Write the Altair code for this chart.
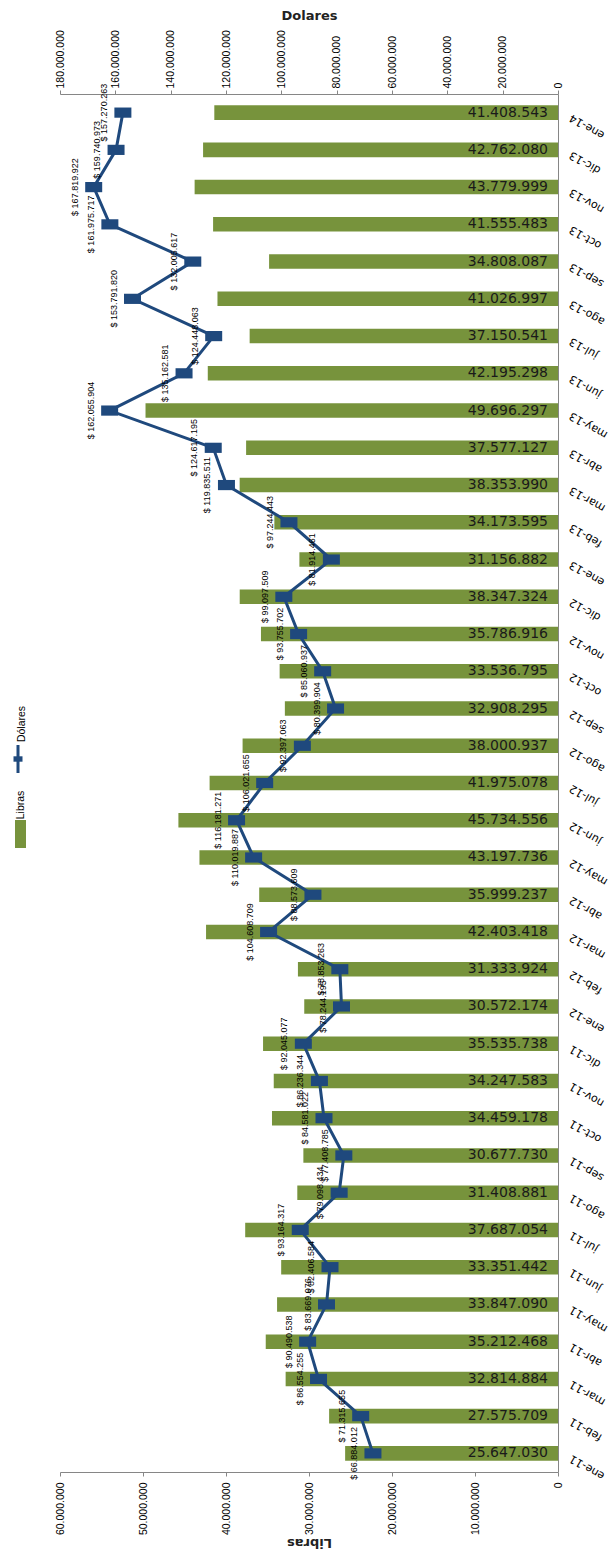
import altair as alt
import pandas as pd

# Monthly exports: pounds shipped (bars) and value in dollars (line)
meses = [
    "ene-11", "feb-11", "mar-11", "abr-11", "may-11", "jun-11", "jul-11", "ago-11",
    "sep-11", "oct-11", "nov-11", "dic-11", "ene-12", "feb-12", "mar-12", "abr-12",
    "may-12", "jun-12", "jul-12", "ago-12", "sep-12", "oct-12", "nov-12", "dic-12",
    "ene-13", "feb-13", "mar-13", "abr-13", "may-13", "jun-13", "jul-13", "ago-13",
    "sep-13", "oct-13", "nov-13", "dic-13", "ene-14",
]

libras = [
    25647030, 27575709, 32814884, 35212468, 33847090, 33351442, 37687054, 31408881,
    30677730, 34459178, 34247583, 35535738, 30572174, 31333924, 42403418, 35999237,
    43197736, 45734556, 41975078, 38000937, 32908295, 33536795, 35786916, 38347324,
    31156882, 34173595, 38353990, 37577127, 49696297, 42195298, 37150541, 41026997,
    34808087, 41555483, 43779999, 42762080, 41408543,
]

dolares = [
    66884012, 71315655, 86554255, 90490538, 83669076, 82406584, 93164317, 79098434,
    77408785, 84581022, 86236344, 92045077, 78244195, 78853263, 104608709, 88573609,
    110019887, 116181271, 106021655, 92397063, 80399904, 85060937, 93755702, 99097509,
    81914461, 97244443, 119835511, 124617195, 162055904, 135162581, 124448063, 153791820,
    132005617, 161975717, 167819922, 159740973, 157270263,
]

ticks_libras = [0, 10000000, 20000000, 30000000, 40000000, 50000000, 60000000]
ticks_dolares = [0, 20000000, 40000000, 60000000, 80000000, 100000000,
                 120000000, 140000000, 160000000, 180000000]


def miles(v):
    return f"{v:,}".replace(",", ".")


df = pd.DataFrame({"mes": meses, "libras": libras, "dolares": dolares})
df["orden"] = range(len(df))
df["txt_lib"] = [miles(v) for v in libras]
df["txt_usd"] = ["$ " + miles(v) for v in dolares]

W, H = 498, 1378
AZUL = "#1F497D"
VERDE = "#77933C"
GRIS = "#868686"
FUENTE = "Liberation Sans"
MARCA = "M-1,-0.6H1V0.6H-1Z"

etiqueta_millones = "datum.value == 0 ? '0' : format(datum.value / 1000000, 'd') + '.000.000'"
orden_y = meses[::-1]

y_axis = alt.Y(
    "mes:N", sort=orden_y,
    scale=alt.Scale(paddingInner=0.61, paddingOuter=0.305),
    axis=alt.Axis(
        orient="right", title=None, labelAngle=210, labelAlign="right",
        labelBaseline="middle", labelPadding=12, labelOffset=4, ticks=False,
        domainColor=GRIS, labelFont="DejaVu Sans", labelFontSize=11,
        labelColor="black",
    ),
)
y_plain = alt.Y("mes:N", sort=orden_y)

esc_lib = alt.Scale(domain=[0, 60000000], reverse=True, nice=False, zero=True)
esc_usd = alt.Scale(domain=[0, 180000000], reverse=True, nice=False, zero=True)

base = alt.Chart(df)

barras = base.mark_bar(color=VERDE).encode(
    x=alt.X(
        "libras:Q", scale=esc_lib,
        axis=alt.Axis(
            orient="bottom", values=ticks_libras, labelExpr=etiqueta_millones,
            labelAngle=270, labelAlign="right", labelBaseline="middle",
            labelPadding=6, labelFont=FUENTE, labelFontSize=10.5, labelColor="black",
            tickSize=4, tickColor=GRIS, domainColor=GRIS, grid=False,
            title="Libras", titleAngle=180, titleY=70, titleBaseline="middle",
            titleFont="DejaVu Sans", titleFontSize=13, titleFontWeight="bold",
            titleColor="#222222",
        ),
    ),
    y=y_axis,
)

texto_barras = base.transform_calculate(cero="0").mark_text(
    align="right", baseline="middle", dx=-10,
    font="DejaVu Sans", fontSize=14, color="#1a1a1a",
).encode(
    x=alt.X("cero:Q", scale=esc_lib),
    y=y_plain,
    text="txt_lib:N",
)

grupo_libras = alt.layer(barras, texto_barras)

linea = base.mark_line(color=AZUL, strokeWidth=3).encode(
    x=alt.X(
        "dolares:Q", scale=esc_usd,
        axis=alt.Axis(
            orient="top", values=ticks_dolares, labelExpr=etiqueta_millones,
            labelAngle=270, labelAlign="left", labelBaseline="middle",
            labelPadding=2, labelFont=FUENTE, labelFontSize=10.5, labelColor="black",
            tickSize=4, tickColor=GRIS, domainColor=GRIS, grid=False,
            title="Dolares", titleY=-79, titleBaseline="middle",
            titleFont="DejaVu Sans", titleFontSize=13, titleFontWeight="bold",
            titleColor="#222222",
        ),
    ),
    y=y_plain,
    order="orden:Q",
)

puntos = base.mark_point(
    shape=MARCA, size=289, filled=True, color=AZUL, opacity=1
).encode(
    x=alt.X("dolares:Q", scale=esc_usd),
    y=y_plain,
)

texto_usd = base.mark_text(
    angle=270, align="center", baseline="bottom", dy=-14,
    font=FUENTE, fontSize=9, color="black",
).encode(
    x=alt.X("dolares:Q", scale=esc_usd),
    y=y_plain,
    text="txt_usd:N",
)

grupo_dolares = alt.layer(linea, puntos, texto_usd)

# Legend drawn by hand so its labels can be rotated with the rest of the chart
uno = alt.Chart(pd.DataFrame({"k": [0]}))
ley_usd_txt = uno.mark_text(
    text="Dólares", angle=270, align="center", baseline="middle",
    font=FUENTE, fontSize=10.5, color="black",
).encode(x=alt.value(-38), y=alt.value(630))
ley_usd_linea = uno.mark_rule(color=AZUL, strokeWidth=3).encode(
    x=alt.value(-42), y=alt.value(651), y2=alt.value(679)
)
ley_usd_marca = uno.mark_point(
    shape=MARCA, size=81, filled=True, color=AZUL, opacity=1
).encode(x=alt.value(-42), y=alt.value(665))
ley_lib_txt = uno.mark_text(
    text="Libras", angle=270, align="center", baseline="middle",
    font=FUENTE, fontSize=10.5, color="black",
).encode(x=alt.value(-39), y=alt.value(711))
ley_lib_caja = uno.mark_rect(color=VERDE).encode(
    x=alt.value(-45), x2=alt.value(-34), y=alt.value(726), y2=alt.value(754)
)

chart = alt.layer(
    grupo_libras, grupo_dolares,
    ley_usd_txt, ley_usd_linea, ley_usd_marca, ley_lib_txt, ley_lib_caja,
).resolve_scale(
    x="independent"
).properties(
    width=W, height=H,
    autosize=alt.AutoSizeParams(type="none"),
    padding={"left": 60, "top": 94, "right": 58, "bottom": 81},
    background="white",
).configure_view(stroke=None)

chart.save("out.html", embed_options={"renderer": "svg", "actions": False})
